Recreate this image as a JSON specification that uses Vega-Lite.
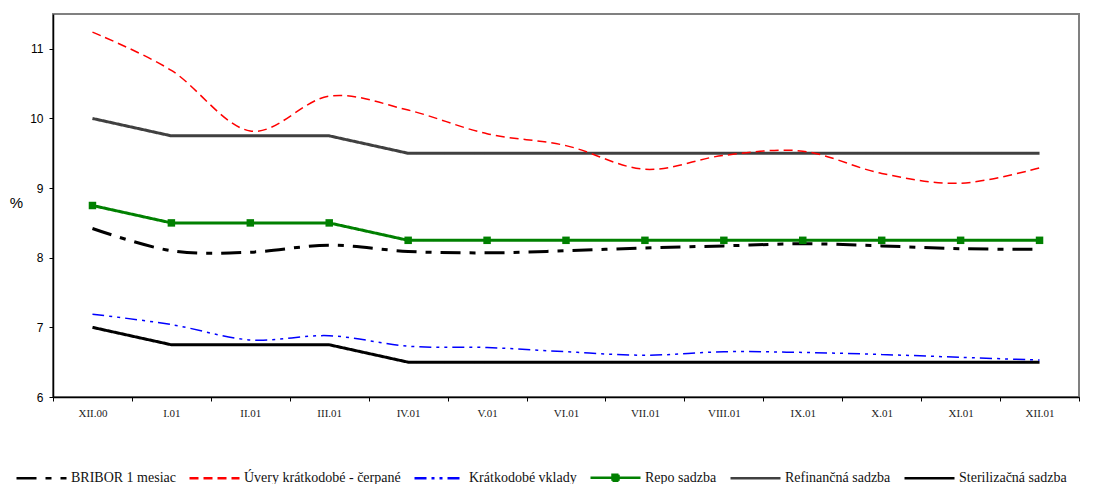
{
  "$schema": "https://vega.github.io/schema/vega-lite/v6.json",
  "width": 1026,
  "height": 383,
  "autosize": {"type": "none"},
  "padding": {"left": 53, "top": 14, "right": 32, "bottom": 87},
  "background": "white",
  "config": {
    "view": {"stroke": "#808080", "strokeWidth": 2},
    "axis": {"grid": false}
  },
  "data": {
    "values": [
      {"m": "XII.00", "s": "BRIBOR 1 mesiac", "v": 8.42},
      {"m": "I.01", "s": "BRIBOR 1 mesiac", "v": 8.10},
      {"m": "II.01", "s": "BRIBOR 1 mesiac", "v": 8.08},
      {"m": "III.01", "s": "BRIBOR 1 mesiac", "v": 8.18},
      {"m": "IV.01", "s": "BRIBOR 1 mesiac", "v": 8.09},
      {"m": "V.01", "s": "BRIBOR 1 mesiac", "v": 8.07},
      {"m": "VI.01", "s": "BRIBOR 1 mesiac", "v": 8.10},
      {"m": "VII.01", "s": "BRIBOR 1 mesiac", "v": 8.14},
      {"m": "VIII.01", "s": "BRIBOR 1 mesiac", "v": 8.17},
      {"m": "IX.01", "s": "BRIBOR 1 mesiac", "v": 8.20},
      {"m": "X.01", "s": "BRIBOR 1 mesiac", "v": 8.17},
      {"m": "XI.01", "s": "BRIBOR 1 mesiac", "v": 8.13},
      {"m": "XII.01", "s": "BRIBOR 1 mesiac", "v": 8.12},

      {"m": "XII.00", "s": "Úvery krátkodobé - čerpané", "v": 11.24},
      {"m": "I.01", "s": "Úvery krátkodobé - čerpané", "v": 10.69},
      {"m": "II.01", "s": "Úvery krátkodobé - čerpané", "v": 9.82},
      {"m": "III.01", "s": "Úvery krátkodobé - čerpané", "v": 10.32},
      {"m": "IV.01", "s": "Úvery krátkodobé - čerpané", "v": 10.12},
      {"m": "V.01", "s": "Úvery krátkodobé - čerpané", "v": 9.78},
      {"m": "VI.01", "s": "Úvery krátkodobé - čerpané", "v": 9.61},
      {"m": "VII.01", "s": "Úvery krátkodobé - čerpané", "v": 9.27},
      {"m": "VIII.01", "s": "Úvery krátkodobé - čerpané", "v": 9.47},
      {"m": "IX.01", "s": "Úvery krátkodobé - čerpané", "v": 9.53},
      {"m": "X.01", "s": "Úvery krátkodobé - čerpané", "v": 9.21},
      {"m": "XI.01", "s": "Úvery krátkodobé - čerpané", "v": 9.07},
      {"m": "XII.01", "s": "Úvery krátkodobé - čerpané", "v": 9.29},

      {"m": "XII.00", "s": "Krátkodobé vklady", "v": 7.19},
      {"m": "I.01", "s": "Krátkodobé vklady", "v": 7.04},
      {"m": "II.01", "s": "Krátkodobé vklady", "v": 6.82},
      {"m": "III.01", "s": "Krátkodobé vklady", "v": 6.88},
      {"m": "IV.01", "s": "Krátkodobé vklady", "v": 6.73},
      {"m": "V.01", "s": "Krátkodobé vklady", "v": 6.71},
      {"m": "VI.01", "s": "Krátkodobé vklady", "v": 6.65},
      {"m": "VII.01", "s": "Krátkodobé vklady", "v": 6.60},
      {"m": "VIII.01", "s": "Krátkodobé vklady", "v": 6.65},
      {"m": "IX.01", "s": "Krátkodobé vklady", "v": 6.64},
      {"m": "X.01", "s": "Krátkodobé vklady", "v": 6.61},
      {"m": "XI.01", "s": "Krátkodobé vklady", "v": 6.57},
      {"m": "XII.01", "s": "Krátkodobé vklady", "v": 6.53},

      {"m": "XII.00", "s": "Repo sadzba", "v": 8.75},
      {"m": "I.01", "s": "Repo sadzba", "v": 8.5},
      {"m": "II.01", "s": "Repo sadzba", "v": 8.5},
      {"m": "III.01", "s": "Repo sadzba", "v": 8.5},
      {"m": "IV.01", "s": "Repo sadzba", "v": 8.25},
      {"m": "V.01", "s": "Repo sadzba", "v": 8.25},
      {"m": "VI.01", "s": "Repo sadzba", "v": 8.25},
      {"m": "VII.01", "s": "Repo sadzba", "v": 8.25},
      {"m": "VIII.01", "s": "Repo sadzba", "v": 8.25},
      {"m": "IX.01", "s": "Repo sadzba", "v": 8.25},
      {"m": "X.01", "s": "Repo sadzba", "v": 8.25},
      {"m": "XI.01", "s": "Repo sadzba", "v": 8.25},
      {"m": "XII.01", "s": "Repo sadzba", "v": 8.25},

      {"m": "XII.00", "s": "Refinančná sadzba", "v": 10},
      {"m": "I.01", "s": "Refinančná sadzba", "v": 9.75},
      {"m": "II.01", "s": "Refinančná sadzba", "v": 9.75},
      {"m": "III.01", "s": "Refinančná sadzba", "v": 9.75},
      {"m": "IV.01", "s": "Refinančná sadzba", "v": 9.5},
      {"m": "V.01", "s": "Refinančná sadzba", "v": 9.5},
      {"m": "VI.01", "s": "Refinančná sadzba", "v": 9.5},
      {"m": "VII.01", "s": "Refinančná sadzba", "v": 9.5},
      {"m": "VIII.01", "s": "Refinančná sadzba", "v": 9.5},
      {"m": "IX.01", "s": "Refinančná sadzba", "v": 9.5},
      {"m": "X.01", "s": "Refinančná sadzba", "v": 9.5},
      {"m": "XI.01", "s": "Refinančná sadzba", "v": 9.5},
      {"m": "XII.01", "s": "Refinančná sadzba", "v": 9.5},

      {"m": "XII.00", "s": "Sterilizačná sadzba", "v": 7},
      {"m": "I.01", "s": "Sterilizačná sadzba", "v": 6.75},
      {"m": "II.01", "s": "Sterilizačná sadzba", "v": 6.75},
      {"m": "III.01", "s": "Sterilizačná sadzba", "v": 6.75},
      {"m": "IV.01", "s": "Sterilizačná sadzba", "v": 6.5},
      {"m": "V.01", "s": "Sterilizačná sadzba", "v": 6.5},
      {"m": "VI.01", "s": "Sterilizačná sadzba", "v": 6.5},
      {"m": "VII.01", "s": "Sterilizačná sadzba", "v": 6.5},
      {"m": "VIII.01", "s": "Sterilizačná sadzba", "v": 6.5},
      {"m": "IX.01", "s": "Sterilizačná sadzba", "v": 6.5},
      {"m": "X.01", "s": "Sterilizačná sadzba", "v": 6.5},
      {"m": "XI.01", "s": "Sterilizačná sadzba", "v": 6.5},
      {"m": "XII.01", "s": "Sterilizačná sadzba", "v": 6.5}
    ]
  },
  "encoding": {
    "x": {
      "field": "m",
      "type": "nominal",
      "bandPosition": 0.5,
      "scale": {
        "type": "band",
        "paddingInner": 0,
        "paddingOuter": 0,
        "domain": ["XII.00", "I.01", "II.01", "III.01", "IV.01", "V.01", "VI.01", "VII.01", "VIII.01", "IX.01", "X.01", "XI.01", "XII.01"]
      },
      "axis": {
        "title": null,
        "labelAngle": 0,
        "tickBand": "extent",
        "labelFont": "Liberation Serif",
        "labelFontSize": 11,
        "labelColor": "#222222",
        "labelPadding": 6,
        "tickSize": 4,
        "tickColor": "#000000",
        "tickWidth": 1,
        "domainColor": "#000000",
        "domainWidth": 1.5
      }
    },
    "y": {
      "field": "v",
      "type": "quantitative",
      "scale": {"domain": [6, 11.5], "nice": false, "zero": false},
      "axis": {
        "values": [6, 7, 8, 9, 10, 11],
        "title": "%",
        "titleAngle": 0,
        "titleFont": "Liberation Sans",
        "titleFontSize": 15,
        "titleFontWeight": "normal",
        "titleColor": "#000000",
        "titleAlign": "center",
        "titleBaseline": "middle",
        "titleX": -37,
        "titleY": 188,
        "labelFont": "Liberation Sans",
        "labelFontSize": 12,
        "labelColor": "#000000",
        "labelPadding": 6,
        "tickSize": 4,
        "tickColor": "#000000",
        "tickWidth": 1,
        "domainColor": "#000000",
        "domainWidth": 1.5
      }
    },
    "color": {
      "field": "s",
      "type": "nominal",
      "scale": {
        "domain": ["BRIBOR 1 mesiac", "Úvery krátkodobé - čerpané", "Krátkodobé vklady", "Repo sadzba", "Refinančná sadzba", "Sterilizačná sadzba"],
        "range": ["#000000", "#ff0000", "#0000ff", "#008000", "#404040", "#000000"]
      },
      "legend": {
        "title": null,
        "orient": "none",
        "direction": "horizontal",
        "legendX": -38,
        "legendY": 437,
        "columns": 6,
        "symbolType": "stroke",
        "symbolSize": 2500,
        "symbolStrokeWidth": 2.5,
        "labelOffset": 3,
        "columnPadding": 8,
        "labelFont": "Liberation Serif",
        "labelFontSize": 14,
        "labelColor": "#111111",
        "labelLimit": 0,
        "encode": {
          "symbols": {
            "update": {
              "shape": {"signal": "datum.value === 'Repo sadzba' ? 'M-1,0H1M-0.12,-0.12H0.12V0.12H-0.12Z' : 'stroke'"},
              "fill": {"signal": "datum.value === 'Repo sadzba' ? '#008000' : 'transparent'"}
            }
          }
        }
      }
    },
    "strokeDash": {
      "field": "s",
      "type": "nominal",
      "scale": {
        "domain": ["BRIBOR 1 mesiac", "Úvery krátkodobé - čerpané", "Krátkodobé vklady", "Repo sadzba", "Refinančná sadzba", "Sterilizačná sadzba"],
        "range": [[20, 9, 6, 9], [9, 5], [12, 5, 3, 5, 3, 5], [1, 0], [1, 0], [1, 0]]
      }
    }
  },
  "layer": [
    {
      "transform": [{"filter": "indexof(['Repo sadzba', 'Refinančná sadzba', 'Sterilizačná sadzba'], datum.s) >= 0"}],
      "mark": {"type": "line", "strokeWidth": 3, "interpolate": "linear"}
    },
    {
      "transform": [{"filter": "datum.s === 'BRIBOR 1 mesiac'"}],
      "mark": {"type": "line", "strokeWidth": 3, "interpolate": "cardinal"}
    },
    {
      "transform": [{"filter": "datum.s === 'Úvery krátkodobé - čerpané' || datum.s === 'Krátkodobé vklady'"}],
      "mark": {"type": "line", "strokeWidth": 1.5, "interpolate": "cardinal"}
    },
    {
      "transform": [{"filter": "datum.s === 'Repo sadzba'"}],
      "mark": {"type": "point", "shape": "square", "filled": true, "size": 56, "opacity": 1, "color": "#008000"},
      "encoding": {"strokeDash": {"value": [1, 0]}, "color": {"value": "#008000"}}
    }
  ]
}
